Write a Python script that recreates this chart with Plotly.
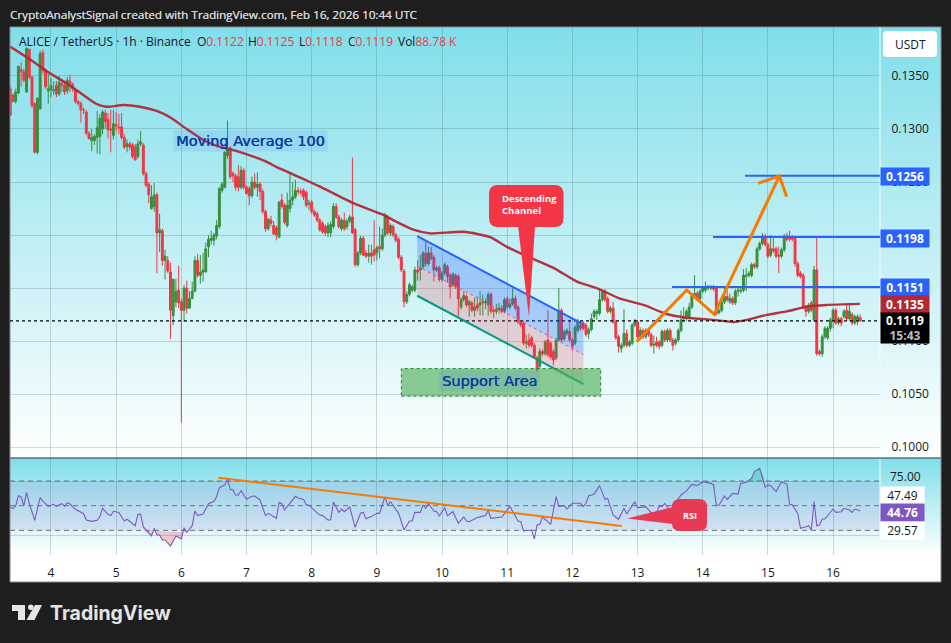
import base64
import plotly.graph_objects as go

W, H = 951, 643

# ---------- data ----------
first_day = 3.375
day_ticks = [4, 5, 6, 7, 8, 9, 10, 11, 12, 13, 14, 15, 16]
price_ticks = [0.1000, 0.1050, 0.1100, 0.1150, 0.1200, 0.1250, 0.1300, 0.1350]
price_tick_text = ["0.1000", "0.1050", "0.1100", "", "", "0.1250", "0.1300", "0.1350"]

opens_e4 = [1338,1332,1326,1334,1356,1354,1335,1375,1349,1324,
1278,1319,1372,1355,1336,1337,1336,1341,1333,1343,
1341,1336,1345,1342,1337,1326,1324,1318,1316,1296,
1289,1289,1292,1293,1300,1315,1309,1300,1294,1304,
1302,1302,1292,1283,1286,1285,1283,1274,1286,1285,
1258,1248,1225,1227,1238,1202,1204,1176,1176,1165,
1124,1137,1148,1137,1129,1150,1131,1140,1147,1176,
1162,1165,1165,1189,1195,1195,1199,1208,1242,1245,
1275,1282,1258,1256,1255,1245,1261,1245,1244,1237,
1250,1245,1248,1241,1222,1206,1214,1209,1207,1198,
1233,1228,1209,1225,1233,1236,1242,1241,1242,1240,
1229,1231,1222,1220,1214,1211,1208,1202,1202,1208,
1227,1217,1206,1214,1208,1213,1217,1205,1172,1183,
1197,1183,1180,1183,1186,1183,1189,1187,1200,1217,
1202,1208,1200,1196,1179,1166,1137,1144,1148,1148,
1167,1167,1170,1183,1173,1183,1179,1167,1169,1158,
1164,1170,1162,1153,1162,1161,1132,1139,1142,1134,
1136,1129,1134,1134,1136,1136,1134,1144,1129,1128,
1130,1131,1128,1140,1132,1135,1140,1132,1118,1117,
1098,1101,1103,1096,1084,1076,1090,1088,1101,1098,
1090,1084,1101,1129,1102,1107,1109,1101,1098,1110,
1115,1117,1115,1107,1111,1123,1126,1126,1139,1147,
1140,1128,1131,1118,1104,1093,1096,1107,1096,1098,
1115,1118,1103,1110,1104,1110,1106,1096,1099,1099,
1096,1109,1101,1110,1101,1098,1101,1110,1121,1123,
1123,1132,1143,1145,1140,1147,1148,1150,1150,1151,
1150,1127,1129,1137,1142,1137,1140,1136,1147,1147,
1148,1161,1162,1162,1172,1170,1187,1192,1199,1191,
1181,1187,1187,1181,1180,1186,1199,1198,1198,1197,
1173,1164,1162,1132,1128,1136,1120,1167,
1090,1088,1104,1103,1112,1120,1129,1117,1121,1123,1129,1121,1125,1117,1120,1122]

closes_e4 = [1313,1326,1335,1359,1354,1346,1376,1349,1322,1278,
1329,1371,1355,1340,1338,1341,1337,1333,1344,1341,
1335,1346,1342,1338,1326,1324,1318,1318,1296,1291,
1292,1293,1301,1310,1316,1307,1299,1299,1305,1303,
1301,1292,1283,1286,1283,1274,1271,1286,1288,1258,
1247,1238,1236,1238,1202,1205,1176,1180,1166,1129,
1158,1147,1136,1129,1150,1131,1140,1147,1176,1162,
1165,1167,1187,1196,1197,1200,1209,1244,1248,1278,
1281,1255,1256,1245,1245,1261,1245,1239,1237,1250,
1245,1248,1241,1222,1206,1215,1211,1201,1200,1231,
1227,1212,1228,1233,1236,1242,1241,1240,1236,1228,
1230,1222,1219,1214,1205,1203,1202,1209,1210,1227,
1217,1208,1214,1206,1213,1217,1202,1172,1183,1197,
1181,1180,1183,1180,1181,1188,1187,1200,1219,1202,
1209,1200,1195,1179,1167,1137,1144,1153,1151,1167,
1165,1169,1183,1173,1183,1178,1167,1169,1158,1164,
1172,1161,1151,1163,1151,1140,1139,1143,1134,1137,
1129,1132,1131,1136,1137,1137,1144,1128,1128,1130,
1131,1128,1139,1132,1135,1140,1131,1118,1115,1098,
1099,1096,1096,1085,1073,1090,1088,1099,1087,1085,
1082,1101,1129,1101,1109,1110,1101,1095,1113,1118,
1112,1112,1106,1111,1121,1128,1128,1139,1146,1139,
1128,1131,1118,1103,1095,1096,1107,1096,1099,1115,
1119,1104,1110,1104,1110,1106,1096,1097,1096,1095,
1109,1101,1110,1101,1096,1101,1110,1120,1122,1128,
1132,1143,1145,1140,1147,1150,1151,1151,1151,1149,
1126,1129,1137,1142,1139,1140,1136,1147,1148,1148,
1162,1162,1164,1172,1170,1187,1192,1199,1191,1180,
1187,1185,1180,1180,1186,1199,1196,1196,1196,1173,
1162,1161,1132,1128,1134,1129,1167,1088,
1088,1104,1112,1112,1120,1129,1117,1121,1117,1128,1121,1128,1117,1123,1123,1119]

highs_e4 = [1340,1333,1338,1360,1363,1357,1377,1376,1350,1325,
1330,1374,1375,1357,1352,1348,1345,1345,1350,1347,
1345,1349,1351,1344,1339,1327,1326,1320,1318,1298,
1300,1295,1317,1314,1318,1318,1315,1318,1318,1316,
1314,1315,1295,1290,1288,1287,1286,1290,1298,1287,
1260,1250,1247,1249,1240,1220,1206,1186,1180,1174,
1159,1159,1171,1140,1153,1157,1147,1156,1180,1182,
1181,1183,1193,1200,1204,1202,1214,1245,1250,1279,
1308,1284,1260,1258,1266,1265,1263,1247,1246,1255,
1258,1259,1250,1243,1224,1216,1218,1213,1209,1232,
1239,1230,1240,1259,1250,1252,1245,1244,1244,1242,
1233,1233,1224,1222,1216,1213,1210,1212,1213,1230,
1230,1219,1216,1221,1215,1219,1273,1207,1185,1199,
1199,1186,1191,1191,1214,1190,1208,1206,1221,1219,
1211,1210,1202,1198,1181,1168,1147,1155,1153,1170,
1176,1181,1185,1194,1189,1189,1181,1171,1171,1166,
1174,1172,1164,1165,1164,1163,1141,1147,1144,1139,
1138,1141,1142,1147,1144,1140,1146,1146,1132,1135,
1136,1134,1141,1142,1140,1150,1143,1134,1120,1119,
1106,1107,1105,1098,1086,1093,1092,1101,1129,1100,
1092,1103,1150,1131,1111,1112,1120,1103,1115,1121,
1119,1119,1117,1113,1126,1130,1130,1148,1148,1149,
1142,1133,1137,1120,1106,1098,1130,1111,1101,1117,
1121,1120,1113,1112,1112,1112,1108,1105,1104,1101,
1111,1111,1112,1112,1103,1103,1112,1129,1132,1130,
1136,1145,1162,1147,1149,1152,1156,1153,1153,1153,
1152,1131,1139,1150,1148,1145,1142,1149,1150,1150,
1168,1169,1166,1174,1174,1189,1194,1202,1201,1193,
1200,1197,1189,1189,1188,1201,1202,1204,1200,1199,
1175,1166,1164,1134,1136,1138,1171,1198,
1092,1106,1114,1114,1122,1131,1131,1123,1123,1130,1135,1136,1127,1125,1125,1125]

lows_e4 = [1313,1325,1324,1333,1340,1344,1334,1347,1320,1277,
1276,1318,1352,1338,1324,1330,1332,1330,1331,1335,
1332,1333,1335,1335,1324,1322,1306,1314,1294,1290,
1279,1285,1277,1276,1295,1300,1291,1278,1290,1298,
1295,1290,1281,1278,1280,1272,1270,1272,1284,1256,
1245,1230,1224,1222,1164,1184,1171,1158,1164,1102,
1115,1132,1131,1023,1118,1126,1131,1140,1146,1160,
1154,1156,1165,1179,1191,1190,1196,1206,1240,1244,
1272,1253,1250,1242,1241,1243,1243,1240,1228,1235,
1243,1236,1233,1220,1203,1204,1208,1200,1195,1197,
1225,1210,1207,1221,1228,1234,1238,1237,1233,1226,
1224,1220,1217,1212,1203,1201,1199,1198,1198,1206,
1215,1206,1204,1204,1205,1211,1201,1170,1170,1181,
1180,1178,1174,1172,1175,1176,1178,1185,1198,1200,
1199,1198,1193,1177,1165,1132,1135,1142,1146,1146,
1157,1157,1168,1170,1171,1176,1156,1165,1156,1156,
1162,1155,1140,1151,1149,1123,1130,1137,1132,1123,
1127,1123,1128,1124,1124,1130,1124,1126,1122,1125,
1126,1126,1126,1130,1130,1133,1129,1116,1113,1096,
1093,1094,1094,1083,1071,1074,1086,1086,1085,1083,
1077,1082,1099,1099,1100,1105,1099,1091,1096,1108,
1110,1110,1104,1102,1109,1121,1120,1124,1137,1137,
1126,1126,1116,1101,1089,1089,1094,1094,1094,1096,
1113,1101,1101,1102,1102,1104,1094,1088,1094,1092,
1094,1099,1099,1099,1091,1096,1099,1108,1118,1119,
1121,1130,1141,1138,1138,1145,1146,1148,1148,1147,
1124,1125,1127,1135,1137,1135,1134,1134,1142,1145,
1146,1147,1160,1160,1168,1168,1185,1190,1189,1178,
1179,1183,1178,1164,1178,1184,1194,1194,1194,1170,
1160,1159,1130,1123,1126,1127,1118,1086,
1086,1085,1102,1101,1109,1112,1115,1115,1114,1121,1119,1119,1115,1115,1115,1118]

ma_days = [3.371,3.729,3.985,4.24,4.496,4.70,4.854,5.11,5.366,5.622,5.826,6.082,6.338,6.542,6.798,7.105,7.31,7.463,7.719,7.974,
           8.128,8.64,9.10,9.30,9.56,9.816,10.33,10.74,10.99,11.30,11.71,12.07,12.37,12.73,13.09,13.447,13.754,14.163,14.47,14.675,14.98,15.29,15.6,15.9,16.41]
ma_e4 = [1377.7,1363.5,1352.5,1343,1332,1323.6,1321,1322.6,1321,1317,1311,1300,1289.6,1284,1280,1274,1269,1264,1257,1250,
         1245.6,1230,1219,1212.5,1205,1201.5,1203,1198,1189,1180,1169,1156,1150,1140,1134,1125.5,1122,1120,1118,1120,1124.6,1128,1132.4,1134,1135]

rsi_hours = [0,1,2,3,4,5,6,7,9,11,12,14,16,17,19,20,21,22,24,27,28,30,32,33,34,36,37,38,40,42,43,46,47,48,49,52,53,54,55,56,57,59,61,63,64,65,67,68,69,71,73,75,76,77,79,80,81,82,83,84,85,87,89,90,92,94,95,98,99,100,101,103,105,106,108,109,110,112,114,115,117,118,119,121,122,123,125,127,129,130,131,133,135,136,138,139,140,143,145,147,148,149,151,152,153,154,156,157,158,160,161,163,165,167,168,169,
172,175,176,177,181,184,187,188,189,192,193,194,195,196,199,201,202,204,205,207,210,211,212,213,215,217,219,220,222,224,226,227,230,231,234,236,238,239,240,241,243,247,249,251,253,255,258,259,260,261,263,264,266,268,269,271,273,274,276,278,279,280,282,284,286,287,288,290,291,293,294,295,296,297,298,299,300,303,304,306,307,309,310,311,313]
rsi_values = [49,47,49.7,60.1,58.8,50,63.5,52.4,35.1,58.1,54.7,49.3,51.4,49.3,52,49.3,53,51.7,46.3,41.9,35.5,34.1,35.1,38.9,47.3,41.2,39.9,44.3,43.2,34.5,36.2,29.7,41.2,41.2,28.4,19.3,27,20.3,20.3,15.2,15.2,9.1,19.3,16.2,27.7,23,29.7,44.6,39.9,41.6,52,54.4,59.1,68.2,71,76.7,66.6,65.9,60.8,60.8,65.2,56.4,59.5,59.8,55.8,39.9,42.2,37.2,53.4,52,45.6,52.4,59.5,57.8,56.4,50.7,50.7,45.3,40.5,39.9,35.5,35.5,53.7,43.2,46.6,43.9,48.7,28,42.6,43.2,36.8,38.9,42.2,42.2,59.1,50,54.1,42.2,25.3,34.5,34.5,43.2,43.2,50.7,47.3,52,44.6,43.9,39.5,48,39.9,43.9,32.1,38.5,34.5,33.8,
37.9,39.9,45,37.2,38.5,49.3,34.5,33.8,24.3,25.3,16.2,30.4,31.1,38.5,31.1,59.1,49,50,46.6,52.4,52.4,49,52.4,60.1,61.5,70.3,56.4,57.4,40.5,36.2,47.3,41.6,54.1,48,49,42.9,42.6,49.7,49,52.4,44.6,60.8,64.9,71.6,70.3,74.3,72.6,71,50,50.7,59.8,56.4,62.5,61.8,72.6,73.7,77.7,84.5,87.8,68.6,71,70.3,64.2,74.3,71.6,51.4,50.7,42.2,27,28.7,29.7,25.3,54.1,29.7,30.4,36.5,36.5,46.6,43.2,43.9,47.3,45.6,43.2,46.6,44.76]

rsi_levels = [75, 50, 25]
target_prices = [0.1256, 0.1198, 0.1151]
target_starts = [14.649, 14.158, 13.529]
# channel drawing: start / end day and the three rails in price
channel_days = [9.62, 12.169]
channel_top = [0.1199, 0.11157]
channel_mid = [0.11707, 0.10874]
channel_bot = [0.11427, 0.10594]
support_days = [9.376, 12.435]
support_prices = [0.1048, 0.1074]
path_days = [12.987, 13.754, 14.178, 15.176]
path_prices = [0.10994, 0.11481, 0.11252, 0.12557]
head_days = [14.854, 15.176, 15.288]
head_prices = [0.12488, 0.12557, 0.12362]
rsi_trend_days = [6.568, 12.757]
rsi_trend_vals = [78.4, 29.4]

FONT = "Open Sans"
GREEN, RED = "#388e3c", "#f23645"
TEXT = "#131722"
BLUE = "#2962ff"
ORANGE = "#f57c00"

candle_days = [first_day + i / 24 for i in range(len(opens_e4))]
rsi_days = [first_day + h / 24 for h in rsi_hours]

def px(x): return x / W
def py(y): return 1 - y / H

def grad(top, bottom):
    svg = ('<svg xmlns="http://www.w3.org/2000/svg" viewBox="0 0 10 100" preserveAspectRatio="none">'
           '<defs><linearGradient id="g" x1="0" y1="0" x2="0" y2="1">'
           f'<stop offset="0" stop-color="{top}"/><stop offset="1" stop-color="{bottom}"/>'
           '</linearGradient></defs><rect width="10" height="100" fill="url(#g)"/></svg>')
    return "data:image/svg+xml;base64," + base64.b64encode(svg.encode()).decode()

XR = [3.371, 16.72]
fig = go.Figure()

fig.add_trace(go.Candlestick(
    x=candle_days, open=[v / 1e4 for v in opens_e4], high=[v / 1e4 for v in highs_e4],
    low=[v / 1e4 for v in lows_e4], close=[v / 1e4 for v in closes_e4],
    increasing=dict(line=dict(color=GREEN, width=1), fillcolor=GREEN),
    decreasing=dict(line=dict(color=RED, width=1), fillcolor=RED),
    whiskerwidth=0, xaxis="x", yaxis="y", showlegend=False, hoverinfo="skip"))
fig.add_trace(go.Scatter(x=ma_days, y=[v / 1e4 for v in ma_e4], mode="lines",
                         line=dict(color="rgba(178,40,51,0.95)", width=2.4, shape="spline", smoothing=0.6),
                         xaxis="x", yaxis="y", showlegend=False, hoverinfo="skip"))

# RSI overshoot fills
under = [(d, min(v, 25)) for h, d, v in zip(rsi_hours, rsi_days, rsi_values) if 49 <= h <= 65]
over = [(d, max(v, 75)) for h, d, v in zip(rsi_hours, rsi_days, rsi_values) if 268 <= h <= 279]
for pts, col in ((under, "rgba(242,54,69,0.25)"), (over, "rgba(8,153,129,0.25)")):
    fig.add_trace(go.Scatter(x=[p[0] for p in pts], y=[p[1] for p in pts], mode="lines", fill="toself",
                             fillcolor=col, line=dict(width=0), xaxis="x2", yaxis="y2",
                             showlegend=False, hoverinfo="skip"))
fig.add_trace(go.Scatter(x=rsi_days, y=rsi_values, mode="lines", line=dict(color="#7e57c2", width=1.1),
                         xaxis="x2", yaxis="y2", showlegend=False, hoverinfo="skip"))

shapes = []
shapes.append(dict(type="rect", xref="paper", yref="paper", x0=px(10), x1=px(941), y0=py(555), y1=py(582),
                   fillcolor="#ffffff", line=dict(width=0), layer="below"))
# RSI band
shapes.append(dict(type="rect", xref="paper", yref="y2", x0=px(10), x1=px(880), y0=25, y1=75,
                   fillcolor="rgba(126,87,194,0.13)", line=dict(width=0), layer="below"))
for lv in rsi_levels:
    shapes.append(dict(type="line", xref="paper", yref="y2", x0=px(10), x1=px(880), y0=lv, y1=lv,
                       line=dict(color="#6f7277", width=1, dash="5px,4px"), layer="below"))
# frame lines
shapes += [
    dict(type="line", xref="paper", yref="paper", x0=px(10), x1=px(941), y0=py(458), y1=py(458),
         line=dict(color="#2a2e39", width=1.2)),
    dict(type="line", xref="paper", yref="paper", x0=px(10), x1=px(10), y0=py(27), y1=py(582),
         line=dict(color="#8a8a8a", width=1)),
    dict(type="line", xref="paper", yref="paper", x0=px(941), x1=px(941), y0=py(27), y1=py(582),
         line=dict(color="#8a8a8a", width=1)),
    dict(type="line", xref="paper", yref="paper", x0=px(10), x1=px(941), y0=py(582), y1=py(582),
         line=dict(color="#8a8a8a", width=1)),
    dict(type="line", xref="paper", yref="paper", x0=px(10), x1=px(941), y0=py(27), y1=py(27),
         line=dict(color="#8a8a8a", width=1)),
    dict(type="line", xref="paper", yref="paper", x0=px(880), x1=px(880), y0=py(27), y1=py(457),
         line=dict(color="#f2fbfc", width=1)),
    dict(type="line", xref="paper", yref="paper", x0=px(880), x1=px(880), y0=py(459), y1=py(555),
         line=dict(color="#f2fbfc", width=1)),
]
# last price
shapes.append(dict(type="line", xref="paper", yref="y", x0=px(10), x1=px(880), y0=0.1119, y1=0.1119,
                   line=dict(color="#000000", width=1.4, dash="dot")))
# channel fills
def poly(xs, ys):
    return "M " + " L ".join(f"{a},{b}" for a, b in zip(xs, ys)) + " Z"
d0, d1 = channel_days
shapes.append(dict(type="path", xref="x", yref="y", path=poly([d0, d1, d1, d0], [channel_top[0], channel_top[1], channel_mid[1], channel_mid[0]]),
                   fillcolor="rgba(41,98,255,0.28)", line=dict(width=0)))
shapes.append(dict(type="path", xref="x", yref="y", path=poly([d0, d1, d1, d0], [channel_mid[0], channel_mid[1], channel_bot[1], channel_bot[0]]),
                   fillcolor="rgba(242,54,69,0.2)", line=dict(width=0)))
shapes.append(dict(type="line", xref="x", yref="y", x0=d0, x1=d1, y0=channel_top[0], y1=channel_top[1], line=dict(color=BLUE, width=2)))
shapes.append(dict(type="line", xref="x", yref="y", x0=d0, x1=d1, y0=channel_mid[0], y1=channel_mid[1], line=dict(color="#f2546a", width=1, dash="3px,3px")))
shapes.append(dict(type="line", xref="x", yref="y", x0=d0, x1=d1, y0=channel_bot[0], y1=channel_bot[1], line=dict(color="#089981", width=2)))
shapes.append(dict(type="rect", xref="x", yref="y", x0=support_days[0], x1=support_days[1], y0=support_prices[0], y1=support_prices[1],
                   fillcolor="rgba(76,175,80,0.62)", line=dict(color="#2e7d32", width=1, dash="dot")))
# target lines
for p, s in zip(target_prices, target_starts):
    shapes.append(dict(type="line", xref="x", yref="y", x0=s, x1=XR[1], y0=p, y1=p, line=dict(color=BLUE, width=2)))
# orange forecast path
shapes.append(dict(type="path", xref="x", yref="y",
                   path="M " + " L ".join(f"{a},{b}" for a, b in zip(path_days, path_prices)),
                   line=dict(color=ORANGE, width=3)))
shapes.append(dict(type="path", xref="x", yref="y",
                   path="M " + " L ".join(f"{a},{b}" for a, b in zip(head_days, head_prices)),
                   line=dict(color=ORANGE, width=3)))
shapes.append(dict(type="line", xref="x2", yref="y2", x0=rsi_trend_days[0], x1=rsi_trend_days[1],
                   y0=rsi_trend_vals[0], y1=rsi_trend_vals[1], line=dict(color=ORANGE, width=2)))

def rounded(x0, x1, y0, y1, r):
    return (f"M {px(x0+r)},{py(y0)} L {px(x1-r)},{py(y0)} Q {px(x1)},{py(y0)} {px(x1)},{py(y0+r)} "
            f"L {px(x1)},{py(y1-r)} Q {px(x1)},{py(y1)} {px(x1-r)},{py(y1)} L {px(x0+r)},{py(y1)} "
            f"Q {px(x0)},{py(y1)} {px(x0)},{py(y1-r)} L {px(x0)},{py(y0+r)} Q {px(x0)},{py(y0)} {px(x0+r)},{py(y0)} Z")

CALL = "#f23645"
shapes.append(dict(type="path", xref="paper", yref="paper", path=rounded(489, 563.5, 185, 227, 9), fillcolor=CALL, line=dict(width=0)))
shapes.append(dict(type="path", xref="paper", yref="paper",
                   path=f"M {px(518)},{py(226)} L {px(535)},{py(226)} L {px(529)},{py(317)} Z", fillcolor=CALL, line=dict(width=0)))
RCALL = "#e83a55"
shapes.append(dict(type="path", xref="paper", yref="paper", path=rounded(672, 707, 499, 531, 8), fillcolor=RCALL, line=dict(width=0)))
shapes.append(dict(type="path", xref="paper", yref="paper",
                   path=f"M {px(673)},{py(507)} L {px(673)},{py(524)} L {px(627)},{py(518.5)} Z", fillcolor=RCALL, line=dict(width=0)))
# USDT button
shapes.append(dict(type="path", xref="paper", yref="paper", path=rounded(883, 937, 31, 57, 4), fillcolor="#ffffff", line=dict(width=0)))
# logo
shapes += [
    dict(type="path", xref="paper", yref="paper", fillcolor="#e4e4e4", line=dict(width=0),
         path=f"M {px(12)},{py(605)} L {px(25)},{py(605)} L {px(25)},{py(620)} L {px(18)},{py(620)} L {px(18)},{py(611)} L {px(12)},{py(611)} Z"),
    dict(type="circle", xref="paper", yref="paper", x0=px(28), x1=px(33.6), y0=py(610), y1=py(604.6),
         fillcolor="#e4e4e4", line=dict(width=0)),
    dict(type="path", xref="paper", yref="paper", fillcolor="#e4e4e4", line=dict(width=0),
         path=f"M {px(35)},{py(605)} L {px(42)},{py(605)} L {px(34.5)},{py(620)} L {px(26.5)},{py(620)} Z"),
]

ann = []
def text(x, y, s, size=12, color=TEXT, anchor="left", weight=None, family=FONT, **kw):
    t = f"<b>{s}</b>" if weight else s
    ann.append(dict(xref="paper", yref="paper", x=px(x), y=py(y), text=t, showarrow=False,
                    xanchor=anchor, yanchor="middle", font=dict(family=family, size=size, color=color), **kw))

ann.append(dict(xref="paper", yref="paper", x=px(8), y=py(15), text="CryptoAnalystSignal created with TradingView.com, Feb 16, 2026 10:44 UTC",
                showarrow=False, xanchor="left", yanchor="middle",
                font=dict(family=FONT, size=11.65, color="#d4d4d4", shadow="0.25px 0 0 #d4d4d4")))
text(17, 41.5, "ALICE / TetherUS · 1h · Binance", size=12)
red = lambda s: f'<span style="color:{RED}">{s}</span>'
for x, lab, val in ((195, "O", "0.1122"), (246, "H", "0.1125"), (297, "L", "0.1118"), (346, "C", "0.1119"), (396, "Vol", "88.78 K")):
    text(x, 41.5, lab + red(val), size=12)

LABEL = dict(family="DejaVu Sans", size=14.5, color="#0d3a9e", shadow="0.4px 0 0 #0d3a9e")
ann.append(dict(xref="paper", yref="paper", x=px(250.5), y=py(141), text="Moving Average 100", showarrow=False,
                xanchor="center", yanchor="middle", font=LABEL, bgcolor="rgba(41,98,255,0.11)", borderpad=2))
ann.append(dict(xref="paper", yref="paper", x=px(489), y=py(381), text="Support Area", showarrow=False,
                xanchor="center", yanchor="middle", font=LABEL, bgcolor="rgba(41,98,255,0.11)", borderpad=2))
text(500, 204.5, "Descending<br>Channel", size=9.5, color="#ffffff", weight=True, align="left")
text(689.5, 515, "RSI", size=9, color="#ffffff", anchor="center", weight=True)
text(910, 44, "USDT", size=12, anchor="center")
text(48, 613, "TradingView", size=19.5, color="#e4e4e4", weight=True, family="Inter")
text(888, 476, "75.00", size=12)

def tag(y, s, bg, fg="#ffffff", h=17, wpx=48, bold=True):
    ann.append(dict(xref="paper", yref="paper", x=px(880), y=py(y), text=f"<b>{s}</b>" if bold else s, showarrow=False,
                    xanchor="left", yanchor="middle", width=wpx, height=h, align="center", valign="middle",
                    bgcolor=bg, borderpad=0, font=dict(family=FONT, size=12, color=fg)))

tag(176.5, "0.1256", BLUE)
tag(238.5, "0.1198", BLUE)
tag(287.5, "0.1151", BLUE)
tag(304.5, "0.1135", "#b22833")
tag(328, '0.1119<br><span style="color:#bdbdbd">15:43</span>', "#000000", h=30)
tag(495.5, "47.49", "#ffffff", fg=TEXT, wpx=43, bold=False)
tag(512.5, "44.76", "#7e57c2", wpx=43)
tag(530, "29.57", "#ffffff", fg=TEXT, wpx=43, bold=False)

grid = "rgba(60,85,95,0.22)"
layout = dict(
    width=W, height=H, margin=dict(l=0, r=0, t=0, b=0),
    paper_bgcolor="#1e1e1e", plot_bgcolor="rgba(0,0,0,0)", showlegend=False, boxgap=0,
    hovermode=False, dragmode=False,
    xaxis=dict(domain=[px(10), px(880)], range=XR, anchor="y", tickvals=day_ticks, showticklabels=False,
               ticks="", showgrid=True, gridcolor=grid, gridwidth=1, zeroline=False, showline=False,
               rangeslider=dict(visible=False)),
    yaxis=dict(domain=[py(457), py(27)], range=[0.09906, 0.13962], anchor="x", side="right",
               tickvals=price_ticks, ticktext=price_tick_text, showgrid=True, gridcolor=grid,
               gridwidth=1, zeroline=False, showline=False, ticks="outside", ticklen=8, tickcolor="rgba(0,0,0,0)",
               tickfont=dict(family=FONT, size=12, color=TEXT)),
    xaxis2=dict(domain=[px(10), px(880)], range=XR, anchor="y2", tickvals=day_ticks, ticktext=[str(d) for d in day_ticks],
                showgrid=True, gridcolor=grid, gridwidth=1, zeroline=False, showline=False,
                ticks="outside", ticklen=7, tickcolor="rgba(0,0,0,0)", tickfont=dict(family=FONT, size=12, color=TEXT)),
    yaxis2=dict(domain=[py(555), py(459)], range=[0, 97.3], anchor="x2", side="right", tickvals=[75, 20],
                ticktext=["", "20.00"], showgrid=True, gridcolor=grid, gridwidth=1, zeroline=False, showline=False,
                ticks="outside", ticklen=8, tickcolor="rgba(0,0,0,0)", tickfont=dict(family=FONT, size=12, color=TEXT)),
    shapes=shapes, annotations=ann,
    images=[
        dict(source=grad("#80deea", "#ffffff"), xref="paper", yref="paper", x=px(10), y=py(27), sizex=px(931), sizey=431/H,
             xanchor="left", yanchor="top", sizing="stretch", layer="below"),
        dict(source=grad("#80deea", "#ffffff"), xref="paper", yref="paper", x=px(10), y=py(458), sizex=px(931), sizey=97/H,
             xanchor="left", yanchor="top", sizing="stretch", layer="below"),
    ],
)
fig.update_layout(**layout)
fig.write_html("out.html", config=dict(displayModeBar=False, staticPlot=True),
               post_script="document.body.style.margin='0';document.documentElement.style.background='#1e1e1e';")
